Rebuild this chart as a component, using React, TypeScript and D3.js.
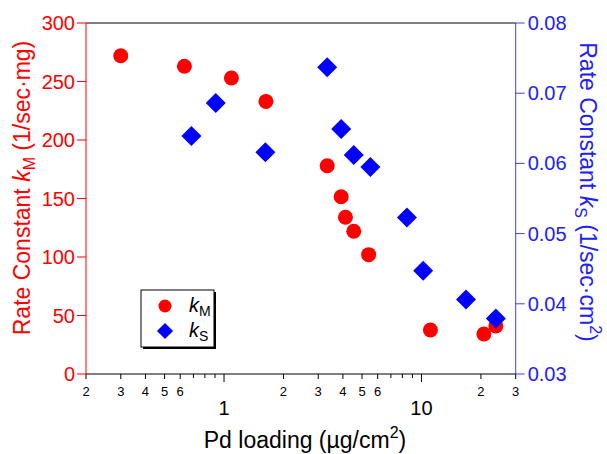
import React, { useEffect, useRef } from "react";
import * as d3 from "d3";

// Pd loading (ug/cm2) and rate constants
const loadingM = [0.3, 0.63, 1.09, 1.63, 3.33, 3.92, 4.12, 4.54, 5.4, 11.1, 20.7, 23.8];
const kM = [272, 263, 253, 233, 178, 151.5, 134, 122, 102, 37.6, 34.2, 41];

const loadingS = [0.684, 0.908, 1.62, 3.33, 3.92, 4.54, 5.51, 8.44, 10.2, 16.8, 23.8];
const kS = [0.0639, 0.0686, 0.0616, 0.0737, 0.0649, 0.0612, 0.0595, 0.0523, 0.0447, 0.0406, 0.0379];

const leftTicks = [0, 50, 100, 150, 200, 250, 300];
const rightTicks = [0.03, 0.04, 0.05, 0.06, 0.07, 0.08];
const xTicks = [0.2, 0.3, 0.4, 0.5, 0.6, 0.7, 0.8, 0.9, 1, 2, 3, 4, 5, 6, 7, 8, 9, 10, 20, 30];

const RED = "#ff0000";
const BLUE = "#0000ff";
const FONT = "Liberation Sans, Arial, sans-serif";

export default function App() {
  const ref = useRef<SVGSVGElement>(null);

  useEffect(() => {
    const svg = d3.select(ref.current);
    svg.selectAll("*").remove();

    const left = 86, right = 515.7, top = 23, bottom = 374;

    const x = d3.scaleLog().domain([0.2, 30]).range([left, right]);
    const yL = d3.scaleLinear().domain([0, 300]).range([bottom, top]);
    const yR = d3.scaleLinear().domain([0.03, 0.08]).range([bottom, top]);

    // top frame line
    svg.append("line")
      .attr("x1", left).attr("x2", right).attr("y1", top).attr("y2", top)
      .attr("stroke", "#000").attr("stroke-width", 1);

    // bottom axis
    const g = svg.append("g");
    g.append("line")
      .attr("x1", left).attr("x2", right).attr("y1", bottom).attr("y2", bottom)
      .attr("stroke", "#000").attr("stroke-width", 1);
    xTicks.forEach((t) => {
      const lead = +(t / Math.pow(10, Math.floor(Math.log10(t) + 1e-9))).toFixed(3);
      const major = lead === 1;
      const labelled = !major && lead <= 6;
      const len = major ? 8 : labelled ? 5 : 4;
      g.append("line")
        .attr("x1", x(t)).attr("x2", x(t)).attr("y1", bottom).attr("y2", bottom + len)
        .attr("stroke", "#000").attr("stroke-width", 1);
      if (labelled) {
        g.append("text")
          .attr("x", x(t)).attr("y", bottom + 22)
          .attr("text-anchor", "middle")
          .attr("font-size", 13).attr("font-family", FONT)
          .text(String(lead));
      }
      if (major) {
        g.append("text")
          .attr("x", x(t)).attr("y", bottom + 41)
          .attr("text-anchor", "middle")
          .attr("font-size", 20).attr("font-family", FONT)
          .text(String(t));
      }
    });

    const xl = svg.append("text")
      .attr("x", 305).attr("y", 448)
      .attr("text-anchor", "middle")
      .attr("font-size", 23).attr("font-family", FONT);
    xl.append("tspan").text("Pd loading (µg/cm");
    xl.append("tspan").attr("font-size", 16).attr("dy", -10).text("2");
    xl.append("tspan").attr("dy", 10).text(")");

    // left axis
    svg.append("line")
      .attr("x1", left).attr("x2", left).attr("y1", top).attr("y2", bottom)
      .attr("stroke", RED).attr("stroke-width", 1);
    leftTicks.forEach((t) => {
      svg.append("line")
        .attr("x1", left - 9).attr("x2", left).attr("y1", yL(t)).attr("y2", yL(t))
        .attr("stroke", RED);
      svg.append("text")
        .attr("x", left - 11).attr("y", yL(t)).attr("dy", "0.35em")
        .attr("text-anchor", "end")
        .attr("font-size", 20).attr("font-family", FONT).attr("fill", RED)
        .text(t);
    });
    const ll = svg.append("text")
      .attr("transform", "translate(30,188) rotate(-90)")
      .attr("text-anchor", "middle")
      .attr("font-size", 23).attr("font-family", FONT).attr("fill", RED);
    ll.append("tspan").text("Rate Constant ");
    ll.append("tspan").attr("font-style", "italic").text("k");
    ll.append("tspan").attr("font-size", 16).attr("dy", 5).text("M");
    ll.append("tspan").attr("dy", -5).text(" (1/sec·mg)");

    // right axis
    svg.append("line")
      .attr("x1", right).attr("x2", right).attr("y1", top).attr("y2", bottom)
      .attr("stroke", BLUE).attr("stroke-opacity", 0.75).attr("stroke-width", 1);
    rightTicks.forEach((t) => {
      svg.append("line")
        .attr("x1", right).attr("x2", right + 9).attr("y1", yR(t)).attr("y2", yR(t))
        .attr("stroke", BLUE).attr("stroke-opacity", 0.75);
      svg.append("text")
        .attr("x", right + 12).attr("y", yR(t)).attr("dy", "0.35em")
        .attr("font-size", 20).attr("font-family", FONT).attr("fill", "#2020ff")
        .text(t.toFixed(2));
    });
    const rl = svg.append("text")
      .attr("transform", "translate(580,192) rotate(90)")
      .attr("text-anchor", "middle")
      .attr("font-size", 23).attr("font-family", FONT).attr("fill", "#2020ff");
    rl.append("tspan").text("Rate Constant ");
    rl.append("tspan").attr("font-style", "italic").text("k");
    rl.append("tspan").attr("font-size", 16).attr("dy", 5).text("S");
    rl.append("tspan").attr("dy", -5).text(" (1/sec·cm");
    rl.append("tspan").attr("font-size", 16).attr("dy", -10).text("2");
    rl.append("tspan").attr("dy", 10).text(")");

    // data
    const circles = d3.range(loadingM.length);
    svg.append("g").selectAll("circle").data(circles).join("circle")
      .attr("cx", (i) => x(loadingM[i])).attr("cy", (i) => yL(kM[i]))
      .attr("r", 7.5).attr("fill", RED);

    const diamond = d3.symbol().type(d3.symbolSquare).size(200);
    const diamonds = d3.range(loadingS.length);
    svg.append("g").selectAll("path").data(diamonds).join("path")
      .attr("d", diamond)
      .attr("transform", (i) => `translate(${x(loadingS[i])},${yR(kS[i])}) rotate(45)`)
      .attr("fill", BLUE);

    // legend
    const lg = svg.append("g").attr("transform", "translate(141,290)");
    lg.append("rect").attr("x", 2).attr("y", 2).attr("width", 73).attr("height", 57).attr("fill", "#000");
    lg.append("rect").attr("x", 0).attr("y", 0).attr("width", 73).attr("height", 57)
      .attr("fill", "#fff").attr("stroke", "#000").attr("stroke-width", 1);
    lg.append("circle").attr("cx", 24).attr("cy", 16).attr("r", 6.5).attr("fill", RED);
    lg.append("path").attr("d", d3.symbol().type(d3.symbolSquare).size(130))
      .attr("transform", "translate(24,41) rotate(45)").attr("fill", BLUE);
    [["M", 22], ["S", 47]].forEach(([s, yy]) => {
      const t = lg.append("text").attr("x", 48).attr("y", yy as number)
        .attr("font-size", 20).attr("font-family", FONT);
      t.append("tspan").attr("font-style", "italic").text("k");
      t.append("tspan").attr("font-size", 14).attr("dy", 4).text(s as string);
    });
  }, []);

  return (
    <svg
      ref={ref}
      width={607}
      height={454}
      style={{ position: "absolute", left: 0, top: 0, background: "#fff" }}
    />
  );
}
